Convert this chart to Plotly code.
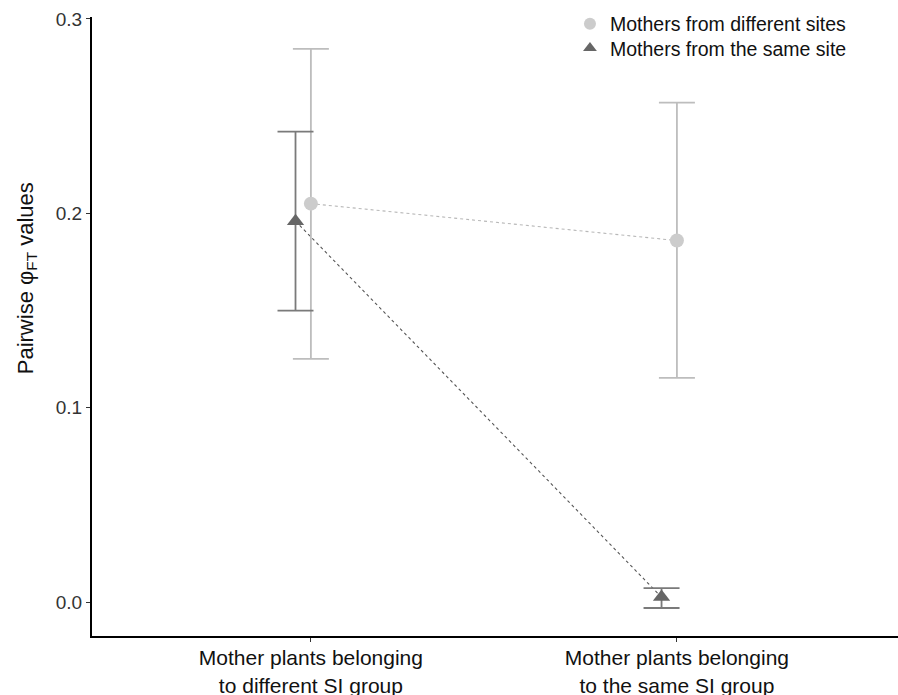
import plotly.graph_objects as go

categories = ["Mother plants belonging<br>to different SI group",
              "Mother plants belonging<br>to the same SI group"]
cat_pos = [0, 1]

diff_sites_mean = [0.205, 0.186]
diff_sites_upper = [0.2846, 0.257]
diff_sites_lower = [0.1251, 0.1154]

same_site_mean = [0.196, 0.0026]
same_site_upper = [0.242, 0.0072]
same_site_lower = [0.150, -0.003]

y_title = "Pairwise φ<sub>FT</sub> values"

dodge = -0.042
x_diff = [p for p in cat_pos]
x_same = [p + dodge for p in cat_pos]

font_family = "Liberation Sans, Arial, sans-serif"

fig = go.Figure()

# connecting dotted lines
fig.add_trace(go.Scatter(x=x_diff, y=diff_sites_mean, mode="lines",
                         line=dict(color="#b8b8b8", width=1.1, dash="dot"),
                         showlegend=False, hoverinfo="skip"))
fig.add_trace(go.Scatter(x=x_same, y=same_site_mean, mode="lines",
                         line=dict(color="#555555", width=1.1, dash="dot"),
                         showlegend=False, hoverinfo="skip"))

# error bars + markers
fig.add_trace(go.Scatter(
    x=x_diff, y=diff_sites_mean, mode="markers",
    name="Mothers from different sites", legend="legend",
    marker=dict(symbol="circle", size=14, color="#cccccc"),
    error_y=dict(type="data", symmetric=False,
                 array=[u - m for u, m in zip(diff_sites_upper, diff_sites_mean)],
                 arrayminus=[m - l for l, m in zip(diff_sites_lower, diff_sites_mean)],
                 color="#bdbdbd", thickness=1.8, width=18)))
fig.add_trace(go.Scatter(
    x=x_same, y=same_site_mean, mode="markers",
    name="Mothers from the same site", legend="legend2",
    marker=dict(symbol="triangle-up", size=15, color="#666666"),
    error_y=dict(type="data", symmetric=False,
                 array=[u - m for u, m in zip(same_site_upper, same_site_mean)],
                 arrayminus=[m - l for l, m in zip(same_site_lower, same_site_mean)],
                 color="#7a7a7a", thickness=1.8, width=18)))

legend_style = dict(xanchor="left", yanchor="top",
                    font=dict(size=19.5, color="#111111"),
                    bgcolor="rgba(0,0,0,0)", itemsizing="constant")

fig.add_annotation(text=y_title, xref="paper", yref="paper",
                   x=-0.0806, y=0.578, xanchor="center", yanchor="middle",
                   textangle=-90, showarrow=False,
                   font=dict(size=22, color="#111111"))

fig.update_layout(
    width=898, height=695,
    margin=dict(l=92, r=0, t=17, b=59, autoexpand=False),
    plot_bgcolor="white", paper_bgcolor="white",
    font=dict(family=font_family, size=19, color="#111111"),
    legend=dict(x=0.593, y=1.02, **legend_style),
    legend2=dict(x=0.593, y=0.981, **legend_style),
    xaxis=dict(range=[-0.598, 1.604], tickvals=cat_pos, ticktext=categories,
               showline=True, linecolor="black", linewidth=2,
               ticks="outside", ticklen=4, tickcolor="#333333",
               showgrid=False, zeroline=False, automargin=False,
               ticklabelstandoff=-2,
               tickfont=dict(size=21, color="#111111")),
    yaxis=dict(range=[-0.0174, 0.301], tickvals=[0.0, 0.1, 0.2, 0.3],
               ticktext=["0.0", "0.1", "0.2", "0.3"],
               showline=True, linecolor="black", linewidth=2,
               ticks="outside", ticklen=4, tickcolor="#333333",
               showgrid=False, zeroline=False, automargin=False,
               tickfont=dict(size=19, color="#333333")),
)

fig.write_html("out.html",
               config={"displayModeBar": False},
               post_script="document.body.style.margin='0';"
                           "document.body.style.overflow='hidden';")
